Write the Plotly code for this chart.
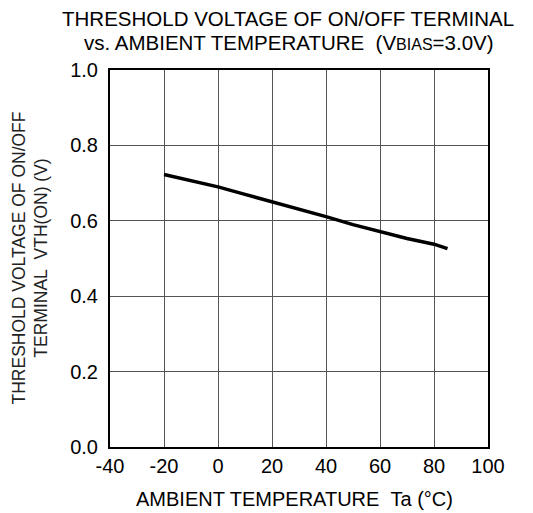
import plotly.graph_objects as go

# Threshold voltage of ON/OFF terminal vs ambient temperature
temp_c = [-20, -10, 0, 10, 20, 30, 40, 50, 60, 70, 80, 85]
vth_on = [0.723, 0.707, 0.690, 0.670, 0.651, 0.631, 0.611, 0.590, 0.571, 0.553, 0.538, 0.526]

x_ticks = [-40, -20, 0, 20, 40, 60, 80, 100]
y_ticks = [0.0, 0.2, 0.4, 0.6, 0.8, 1.0]

FONT = "Liberation Sans, Arial, sans-serif"

fig = go.Figure()
fig.add_trace(
    go.Scatter(
        x=temp_c,
        y=vth_on,
        mode="lines",
        line={"color": "#000000", "width": 3.5},
        showlegend=False,
    )
)

# page body adds an 8px offset, so margins are shifted to land the plot box
fig.update_layout(
    width=533,
    height=513,
    margin={"l": 102, "r": 53, "t": 62, "b": 74},
    paper_bgcolor="white",
    plot_bgcolor="white",
    font={"family": FONT, "size": 20, "color": "#000000"},
    showlegend=False,
)

fig.update_xaxes(
    range=[-40, 100],
    tickvals=x_ticks,
    ticktext=[str(v) for v in x_ticks],
    showgrid=True,
    gridcolor="#555555",
    gridwidth=1,
    zeroline=False,
    showline=True,
    linecolor="#000000",
    linewidth=2,
    mirror=True,
    ticks="",
    tickfont={"size": 20},
)
fig.update_yaxes(
    range=[0, 1.0],
    tickvals=y_ticks,
    ticktext=[f"{v:.1f}" for v in y_ticks],
    showgrid=True,
    gridcolor="#555555",
    gridwidth=1,
    zeroline=False,
    showline=True,
    linecolor="#000000",
    linewidth=2,
    mirror=True,
    ticks="",
    ticklabelstandoff=6,
    tickfont={"size": 20},
)

# titles as annotations for exact placement
fig.add_annotation(
    text="THRESHOLD VOLTAGE OF ON/OFF TERMINAL",
    xref="paper", yref="paper",
    x=(288 - 110) / 378, y=1 + (70 - 19) / 377,
    xanchor="center", yanchor="middle",
    showarrow=False, font={"size": 20.5},
)
fig.add_annotation(
    text="vs. AMBIENT TEMPERATURE&nbsp;&nbsp;(V<span style='font-size:16px'>BIAS</span>=3.0V)",
    xref="paper", yref="paper",
    x=(289 - 110) / 378, y=1 + (70 - 42) / 377,
    xanchor="center", yanchor="middle",
    showarrow=False, font={"size": 20.5},
)
fig.add_annotation(
    text="AMBIENT TEMPERATURE&nbsp;&nbsp;Ta (°C)",
    xref="paper", yref="paper",
    x=(294 - 110) / 378, y=-(499 - 447) / 377,
    xanchor="center", yanchor="middle",
    showarrow=False, font={"size": 20},
)
fig.add_annotation(
    text="THRESHOLD VOLTAGE OF ON/OFF<br>TERMINAL&nbsp;&nbsp;VTH(ON) (V)",
    xref="paper", yref="paper",
    x=(30 - 110) / 378, y=0.5,
    xanchor="center", yanchor="middle",
    textangle=-90,
    showarrow=False, font={"size": 17.5, "color": "#222222"},
)

fig.write_html("out.html")
